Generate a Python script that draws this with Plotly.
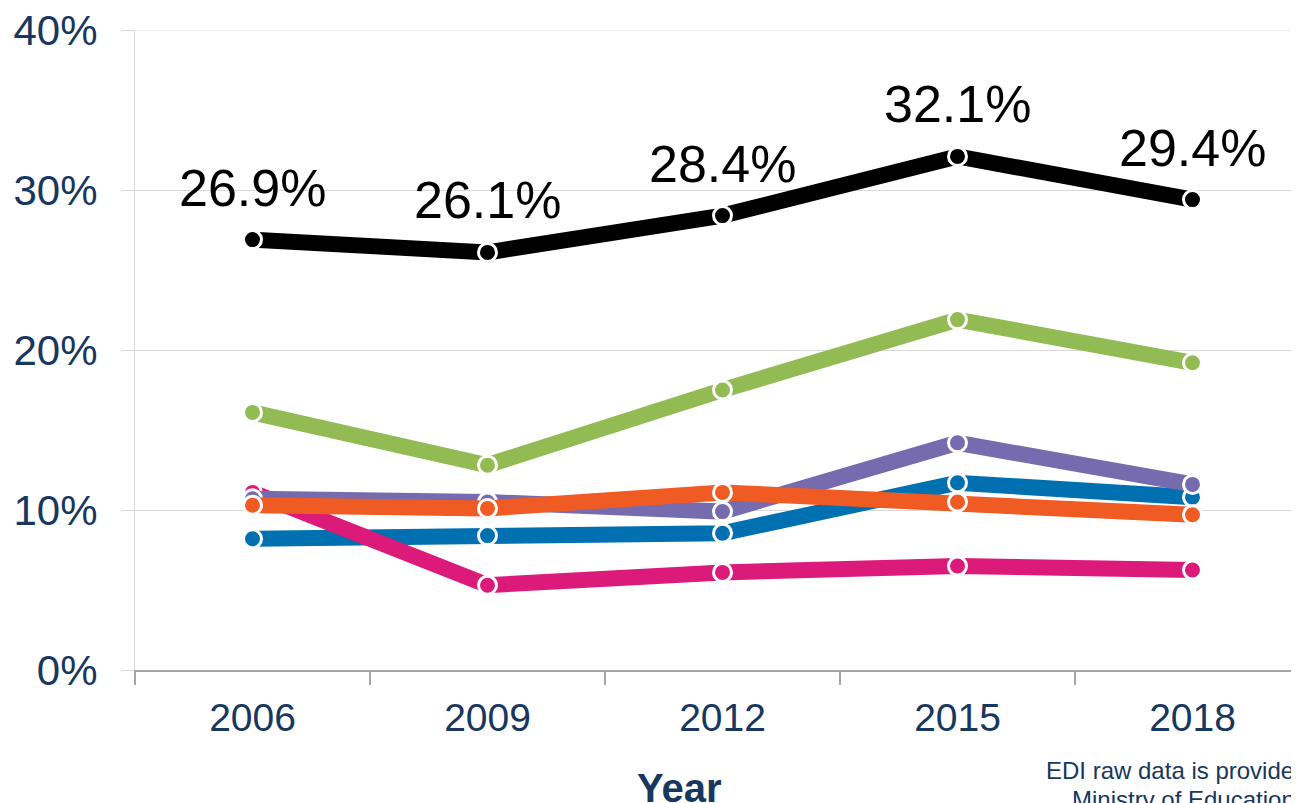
import plotly.graph_objects as go

years = ["2006", "2009", "2012", "2015", "2018"]
total = [26.9, 26.1, 28.4, 32.1, 29.4]
green = [16.1, 12.8, 17.5, 21.9, 19.2]
purple = [10.7, 10.5, 9.9, 14.2, 11.6]
orange = [10.3, 10.1, 11.1, 10.5, 9.7]
blue = [8.2, 8.4, 8.55, 11.7, 10.8]
pink = [11.1, 5.3, 6.1, 6.5, 6.25]
yticks = [0, 10, 20, 30, 40]
ytick_labels = ["0%", "10%", "20%", "30%", "40%"]

FONT = "Liberation Sans, Arial, sans-serif"
NAVY = "#17375E"
GRID = "#D9D9D9"

series = [
    ("Blue", blue, "#0070B0"),
    ("Pink", pink, "#DC1A7A"),
    ("Purple", purple, "#776BAF"),
    ("Orange", orange, "#F05A23"),
    ("Green", green, "#92BB54"),
    ("Total", total, "#000000"),
]

fig = go.Figure()
for name, vals, col in series:
    fig.add_trace(go.Scatter(
        x=years, y=vals, name=name, mode="lines+markers",
        line=dict(color=col, width=16),
        marker=dict(color=col, size=18, line=dict(color="white", width=3)),
        showlegend=False, hoverinfo="skip",
    ))

# data labels on the total line (category axis -> use category index)
for i, v in enumerate(total):
    fig.add_annotation(x=i, y=v, xref="x", yref="y", text=f"{v:.1f}%",
                       showarrow=False, yanchor="middle", yshift=52,
                       font=dict(family=FONT, size=52, color="#000000"))

# top gridline (plotly omits the gridline on the range edge)
fig.add_shape(type="line", xref="paper", x0=0, x1=1, yref="y", y0=yticks[-1], y1=yticks[-1],
              line=dict(color=GRID, width=1.2), layer="below")

# page offset (body margin) of 8px: screen = figure + 8
OFF = 8
W, H = 1299, 803
pl, pr, pt = 135 - OFF, 0, 30 - OFF
pb = H - (670 - OFF)
pw, ph = W - pl - pr, H - pt - pb


def px(x):
    return (x - OFF - pl) / pw


def py(y):
    return (H - pb - (y - OFF)) / ph


fig.add_annotation(x=px(679), y=py(788), xref="paper", yref="paper", text="<b>Year</b>",
                   showarrow=False, yanchor="middle",
                   font=dict(family=FONT, size=40, color=NAVY))
fig.add_annotation(x=px(1044), y=py(770), xref="paper", yref="paper",
                   text="EDI raw data is provided by", xanchor="left", yanchor="middle",
                   showarrow=False, font=dict(family=FONT, size=24, color=NAVY))
fig.add_annotation(x=px(1070), y=py(799), xref="paper", yref="paper",
                   text="Ministry of Education", xanchor="left", yanchor="middle",
                   showarrow=False, font=dict(family=FONT, size=24, color=NAVY))

band = 235.0
xmax = -0.5 + pw / band

fig.update_layout(
    width=W, height=H,
    margin=dict(l=pl, r=pr, t=pt, b=pb, autoexpand=False),
    paper_bgcolor="white", plot_bgcolor="white",
    font=dict(family=FONT, color=NAVY),
    xaxis=dict(
        type="category", range=[-0.5, xmax], automargin=False,
        showgrid=False, showline=True, linecolor="#A6A6A6", linewidth=1.5,
        ticks="outside", tickson="boundaries", ticklen=13, tickcolor="#A6A6A6", tickwidth=1.5,
        tickfont=dict(family=FONT, size=39, color=NAVY),
        ticklabelstandoff=12,
    ),
    yaxis=dict(
        range=[0, 40], tickvals=yticks, ticktext=ytick_labels, automargin=False,
        ticklabeloverflow="allow",
        showgrid=True, gridcolor=GRID, gridwidth=1.2,
        showline=True, linecolor=GRID, linewidth=1.2,
        ticks="outside", ticklen=13, tickcolor=GRID,
        tickfont=dict(family=FONT, size=42, color=NAVY),
        ticklabelstandoff=15, zeroline=False,
    ),
)

fig.write_html("out.html")
